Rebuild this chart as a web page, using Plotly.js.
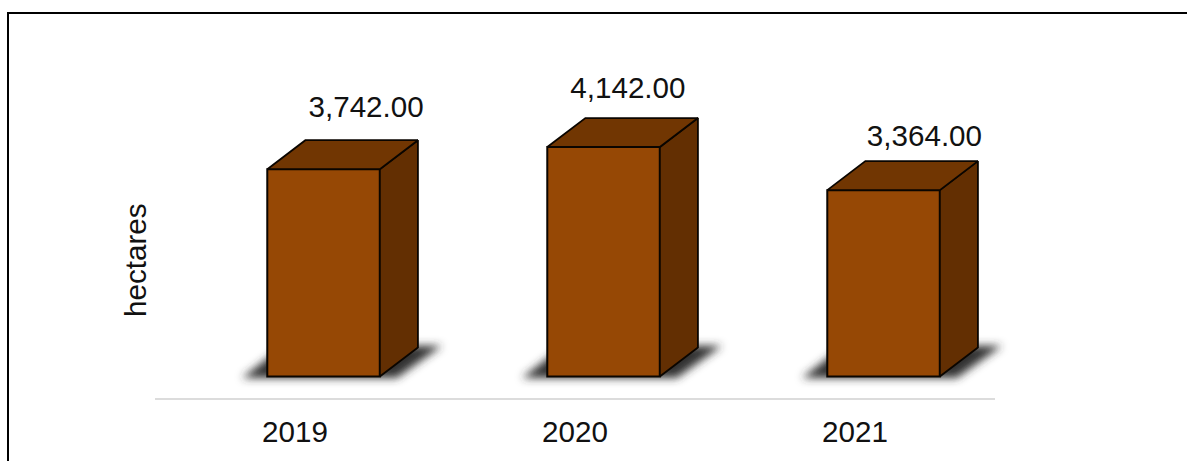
<!DOCTYPE html>
<html><head><meta charset="utf-8">
<script src="https://cdn.plot.ly/plotly-3.0.1.min.js"></script>
<style>html,body{margin:0;padding:0;background:#fff;overflow:hidden}#c{width:1187px;height:461px}</style>
</head><body><div id="c"></div>
<script>
const categories = ['2019','2020','2021'];
const hectares = [3742, 4142, 3364];

// 3-D drawing parameters (axis units)
const frontLeft = -0.099, frontWidth = 0.402;
const depthX = 0.136, depthY = 523;
const labelDX = [0.254, 0.189, 0.248];
const labelDY = [545, 488, 400];
const pos = categories.map((_, i) => i);

const FRONT = '#964805', TOP = '#713602', SIDE = '#632f02', EDGE = '#0a0500';
const poly = (xs, ys, fill, name) => ({
  type: 'scatter', mode: 'lines', x: [...xs, xs[0]], y: [...ys, ys[0]],
  fill: 'toself', fillcolor: fill, hoverinfo: 'skip', showlegend: false, name,
  line: {color: EDGE, width: 1.8}
});

const shadowShapes = pos.map(i => {
  const l = i + frontLeft, r = l + frontWidth;
  const xs = [l - 0.09, l + 0.06, r + depthX + 0.085, r + 0.06];
  const ys = [-25, depthY + 30, depthY + 30, -25];
  return {
    type: 'path', layer: 'below', xref: 'x', yref: 'y',
    path: 'M' + xs.map((x, k) => x + ',' + ys[k]).join('L') + 'Z',
    fillcolor: '#303030', line: {width: 0}
  };
});
const sides = pos.map(i => {
  const r = i + frontLeft + frontWidth, v = hectares[i];
  return poly([r, r + depthX, r + depthX, r], [0, depthY, v + depthY, v], SIDE, 'side');
});
const tops = pos.map(i => {
  const l = i + frontLeft, r = l + frontWidth, v = hectares[i];
  return poly([l, l + depthX, r + depthX, r], [v, v + depthY, v + depthY, v], TOP, 'top');
});
const front = {
  type: 'bar', x: pos, y: hectares, offset: frontLeft, width: frontWidth,
  marker: {color: FRONT, line: {color: EDGE, width: 2}}, hoverinfo: 'skip', showlegend: false
};
const labels = {
  type: 'scatter', mode: 'text', x: pos.map(i => i + labelDX[i]),
  y: hectares.map((v, i) => v + depthY + labelDY[i]),
  text: hectares.map(v => v.toLocaleString('en-US', {minimumFractionDigits: 2, maximumFractionDigits: 2})),
  textposition: 'middle center', cliponaxis: false,
  textfont: {family: 'Liberation Sans, Arial, sans-serif', size: 29.6, color: '#111'},
  hoverinfo: 'skip', showlegend: false
};

const W = 1187, H = 461, L = 155, R = 995, T = 33, B = 398;
const px = x => (x - L) / (R - L), py = y => (B - y) / (B - T);
const layout = {
  width: W, height: H, margin: {l: L, r: W - R, t: T, b: H - B},
  paper_bgcolor: '#fff', plot_bgcolor: 'rgba(0,0,0,0)', showlegend: false,
  font: {family: 'Liberation Sans, Arial, sans-serif', size: 29.6, color: '#111'},
  xaxis: {
    range: [-0.5, 2.5], tickmode: 'array', tickvals: pos, ticktext: categories,
    showgrid: false, zeroline: false, showline: true, linecolor: '#dcdcdc', linewidth: 2,
    ticks: '', ticklabelstandoff: 6, tickfont: {size: 29.6, color: '#111'}, fixedrange: true
  },
  yaxis: {
    range: [-388, 6200], showgrid: false, zeroline: false, showline: false,
    showticklabels: false, ticks: '', fixedrange: true, automargin: false
  },
  annotations: [{
    text: 'hectares', textangle: -90, showarrow: false, xref: 'paper', yref: 'paper',
    x: px(135), y: py(260), xanchor: 'center', yanchor: 'middle',
    font: {size: 29.6, color: '#111'}
  }],
  shapes: [
    ...shadowShapes,
    {type: 'line', xref: 'paper', yref: 'paper', x0: px(8), x1: px(8), y0: py(13), y1: py(461), line: {color: '#000', width: 2}},
    {type: 'line', xref: 'paper', yref: 'paper', x0: px(7), x1: px(1187), y0: py(13), y1: py(13), line: {color: '#000', width: 2}}
  ]
};

Plotly.newPlot('c', [...sides, ...tops, front, labels], layout, {displayModeBar: false, staticPlot: true}).then(gd => {
  const svg = gd.querySelector('svg.main-svg');
  const ns = 'http://www.w3.org/2000/svg';
  const defs = svg.querySelector('defs') || svg.appendChild(document.createElementNS(ns, 'defs'));
  const f = document.createElementNS(ns, 'filter');
  f.setAttribute('id', 'soft'); f.setAttribute('x', '-30%'); f.setAttribute('y', '-60%');
  f.setAttribute('width', '160%'); f.setAttribute('height', '220%');
  const b = document.createElementNS(ns, 'feGaussianBlur');
  b.setAttribute('stdDeviation', '4');
  f.appendChild(b); defs.appendChild(f);
  gd.querySelectorAll('.shapelayer path').forEach(p => {
    if (/Z\s*$/.test(p.getAttribute('d'))) {
      for (let n = p; n && n !== svg; n = n.parentNode) n.removeAttribute('clip-path');
      p.setAttribute('filter', 'url(#soft)');
    }
  });
});
</script></body></html>
